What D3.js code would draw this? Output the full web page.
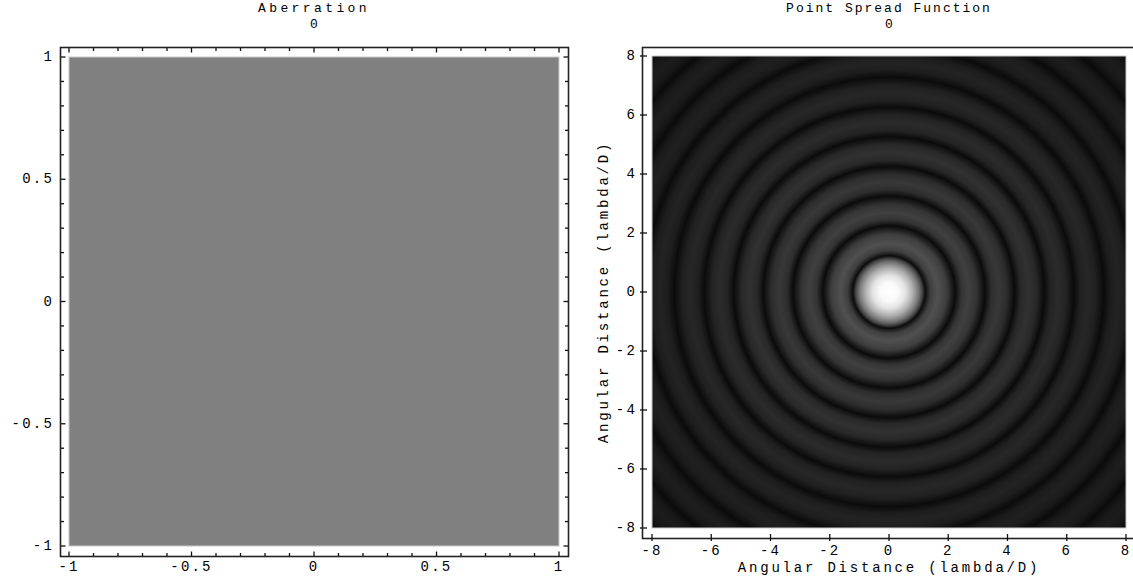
<!DOCTYPE html>
<html>
<head>
<meta charset="utf-8">
<script src="https://cdn.jsdelivr.net/npm/d3@7"></script>
<style>
  body { margin: 0; background: #fff; }
  text { font-family: "Liberation Mono", "DejaVu Sans Mono", monospace; fill: #000; }
</style>
</head>
<body>
<div id="vis"></div>
<script>
const FRAME_WIDTH = 1133;
const FRAME_HEIGHT = 584;

// aberration panel: the wavefront is flat (value 0 everywhere)
const ABERRATION_RANGE = [-1, 1];
const aberrationValue = 0;
const aberrationTicks = [-1, -0.5, 0, 0.5, 1];
const aberrationTickLabels = ['-1', '-0.5', '0', '0.5', '1'];

// psf panel: radial brightness profile
const psfRange = [-8, 8];
const psfTicks = [-8, -6, -4, -2, 0, 2, 4, 6, 8];
const profileRadius = [0, 0.3, 0.55, 0.8, 1.0, 1.12, 1.22, 1.4, 1.64, 1.95, 2.23, 2.45, 2.68, 2.95, 3.24, 3.45, 3.70, 3.97, 4.24, 4.45, 4.71, 4.98, 5.24, 5.45, 5.72, 5.98, 6.24, 6.45, 6.72, 6.98, 7.25, 7.48, 7.73, 7.99, 8.25, 8.48, 8.73, 8.99, 9.25, 9.5, 9.73, 10.0, 10.25, 10.5, 10.74, 11.0, 11.3];
const profileGray =   [255, 250, 228, 175, 118, 70, 12, 62, 80, 62, 11, 52, 64, 52, 11, 45, 56, 45, 11, 40, 49, 40, 11, 35, 43, 35, 11, 32, 39, 32, 11, 29, 35, 29, 11, 27, 32, 27, 11, 25, 30, 25, 11, 24, 28, 24, 11];

const SVG = d3.select('#vis')
  .append('svg')
    .attr('width', FRAME_WIDTH)
    .attr('height', FRAME_HEIGHT);

const defs = SVG.append('defs');
const FS = 14;
const LS = 2.2;

// ---------- left panel ----------
const XL = d3.scaleLinear().domain(ABERRATION_RANGE).range([69, 559]);
const YL = d3.scaleLinear().domain(ABERRATION_RANGE).range([546, 57]);
const GRAY = d3.scaleLinear().domain([-1, 1]).range(['#000', '#fff']);

const left = SVG.append('g');

left.append('rect')
  .attr('x', XL(-1)).attr('y', YL(1))
  .attr('width', XL(1) - XL(-1)).attr('height', YL(-1) - YL(1))
  .attr('fill', GRAY(aberrationValue))
  .attr('stroke', '#c8c8c8').attr('stroke-width', 1);

// frame
left.append('rect')
  .attr('x', 60.5).attr('y', 47.5).attr('width', 508).attr('height', 509)
  .attr('fill', 'none').attr('stroke', '#222').attr('stroke-width', 1.6);

const minorL = d3.range(-10, 11).map(d => d / 10);
function tickLen(v) { return Math.abs(v * 2 - Math.round(v * 2)) < 1e-9 ? 4.5 : 3; }

// bottom + top
left.selectAll('.tb').data(minorL).enter().append('line')
  .attr('x1', d => XL(d)).attr('x2', d => XL(d))
  .attr('y1', 556).attr('y2', d => 556 - tickLen(d))
  .attr('stroke', '#111').attr('stroke-width', 1.3);
left.selectAll('.tt').data(minorL).enter().append('line')
  .attr('x1', d => XL(d)).attr('x2', d => XL(d))
  .attr('y1', 48).attr('y2', d => 48 + tickLen(d))
  .attr('stroke', '#111').attr('stroke-width', 1.3);
// left + right
left.selectAll('.tl').data(minorL).enter().append('line')
  .attr('y1', d => YL(d)).attr('y2', d => YL(d))
  .attr('x1', 61).attr('x2', d => 61 + tickLen(d))
  .attr('stroke', '#111').attr('stroke-width', 1.3);
left.selectAll('.tr').data(minorL).enter().append('line')
  .attr('y1', d => YL(d)).attr('y2', d => YL(d))
  .attr('x1', 568).attr('x2', d => 568 - tickLen(d))
  .attr('stroke', '#111').attr('stroke-width', 1.3);

left.selectAll('.xl').data(aberrationTicks).enter().append('text')
  .attr('x', d => XL(d)).attr('y', 571)
  .attr('text-anchor', 'middle')
  .attr('font-size', FS).attr('letter-spacing', LS)
  .text((d, i) => aberrationTickLabels[i]);
left.selectAll('.yl').data(aberrationTicks).enter().append('text')
  .attr('x', 54).attr('y', d => YL(d) + 4)
  .attr('text-anchor', 'end')
  .attr('font-size', FS).attr('letter-spacing', LS)
  .text((d, i) => aberrationTickLabels[i]);

left.append('text').attr('x', 314).attr('y', 12).attr('text-anchor', 'middle')
  .attr('font-size', FS - 1).attr('letter-spacing', LS + 1.2).text('Aberration');
left.append('text').attr('x', 314).attr('y', 28).attr('text-anchor', 'middle')
  .attr('font-size', FS - 1).text('0');

// ---------- right panel ----------
const XR = d3.scaleLinear().domain(psfRange).range([652, 1126]);
const YR = d3.scaleLinear().domain(psfRange).range([528, 56]);
const maxR = d3.max(profileRadius);
const OFFSET = d3.scaleLinear().domain([0, maxR]).range([0, 1]);

const grad = defs.append('radialGradient')
  .attr('id', 'psf')
  .attr('gradientUnits', 'userSpaceOnUse')
  .attr('cx', XR(0)).attr('cy', YR(0))
  .attr('r', XR(maxR) - XR(0));
grad.selectAll('stop').data(profileRadius).enter().append('stop')
  .attr('offset', d => OFFSET(d))
  .attr('stop-color', (d, i) => d3.rgb(profileGray[i], profileGray[i], profileGray[i]));

const right = SVG.append('g');

right.append('rect')
  .attr('x', XR(-8)).attr('y', YR(8))
  .attr('width', XR(8) - XR(-8)).attr('height', YR(-8) - YR(8))
  .attr('fill', 'url(#psf)')
  .attr('stroke', '#c8c8c8').attr('stroke-width', 1);

right.append('rect')
  .attr('x', 642.5).attr('y', 47.5).attr('width', 494).attr('height', 491)
  .attr('fill', 'none').attr('stroke', '#222').attr('stroke-width', 1.6);

right.selectAll('.tb').data(psfTicks).enter().append('line')
  .attr('x1', d => XR(d)).attr('x2', d => XR(d))
  .attr('y1', 541).attr('y2', 534)
  .attr('stroke', '#111').attr('stroke-width', 1.3);
right.selectAll('.tl').data(psfTicks).enter().append('line')
  .attr('y1', d => YR(d)).attr('y2', d => YR(d))
  .attr('x1', 640).attr('x2', 647)
  .attr('stroke', '#111').attr('stroke-width', 1.3);

right.selectAll('.xl').data(psfTicks).enter().append('text')
  .attr('x', d => XR(d)).attr('y', 555)
  .attr('text-anchor', 'middle')
  .attr('font-size', FS).attr('letter-spacing', LS)
  .text(d => d);
right.selectAll('.yl').data(psfTicks).enter().append('text')
  .attr('x', 637).attr('y', d => YR(d) + 4)
  .attr('text-anchor', 'end')
  .attr('font-size', FS).attr('letter-spacing', LS)
  .text(d => d);

right.append('text').attr('x', 889).attr('y', 572).attr('text-anchor', 'middle')
  .attr('font-size', FS).attr('letter-spacing', LS + 0.6).text('Angular Distance (lambda/D)');
right.append('text')
  .attr('transform', 'translate(608,' + YR(0) + ') rotate(-90)')
  .attr('text-anchor', 'middle')
  .attr('font-size', FS).attr('letter-spacing', LS + 0.6).text('Angular Distance (lambda/D)');

right.append('text').attr('x', 889).attr('y', 12).attr('text-anchor', 'middle')
  .attr('font-size', FS - 1).attr('letter-spacing', LS - 0.2).text('Point Spread Function');
right.append('text').attr('x', 889).attr('y', 28).attr('text-anchor', 'middle')
  .attr('font-size', FS - 1).text('0');
</script>
</body>
</html>
